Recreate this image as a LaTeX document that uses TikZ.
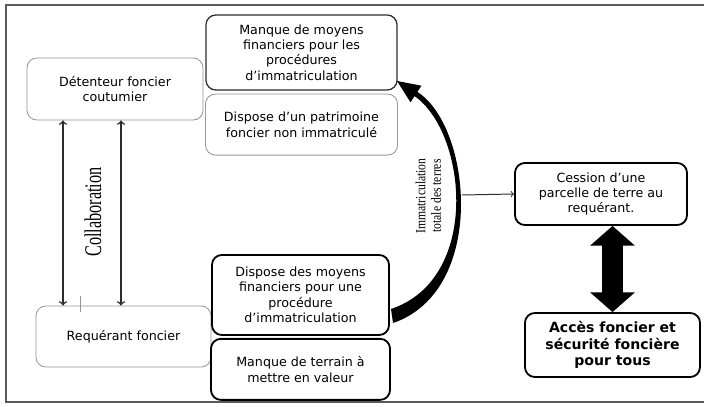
\documentclass[tikz,border=0pt]{standalone}
\usepackage{fontspec}
\setmainfont{DejaVu Sans}
\newfontfamily\timesfont{Liberation Serif}
\usepackage{graphicx}
\usepackage{xcolor}
\usepackage{tikz}
\usetikzlibrary{arrows,arrows.meta,shapes,positioning}

\begin{document}
\begin{tikzpicture}[x=0.025cm,y=-0.025cm,>=to]
    \definecolor{mygrey}{RGB}{150,150,150}
    \definecolor{mydark}{RGB}{45,45,45}
    \definecolor{myframe}{RGB}{90,90,90}

    \fontsize{9pt}{11pt}\selectfont  % 字体大小
    \tikzstyle{soft}=[rectangle,rounded corners=7pt,draw=mygrey,line width=0.6pt,fill=white,align=center,inner sep=2pt]  % 浅色框
    \tikzstyle{format}=[soft,draw=mydark,line width=0.9pt]  % 深色框
    \tikzstyle{strong}=[soft,draw=black,line width=1.3pt]  % 粗框
    \tikzstyle{vlabel}=[rotate=90,font=\timesfont,inner sep=0pt]  % 竖排文字
    \tikzstyle{point}=[coordinate]

    \useasboundingbox (0,0) rectangle (704,407);
    \draw[myframe,line width=1.4pt] (704,5) -- (6,5) -- (6,402) -- (704,402);

    % 定义node
    \node[soft,minimum width=4.4cm,minimum height=1.55cm](det) at (115,89){Détenteur foncier\\coutumier};
    \node[format,minimum width=4.775cm,minimum height=1.875cm](manque) at (301.5,52.5){Manque de moyens\\financiers pour les\\procédures\\d'immatriculation};
    \node[soft,below=0.075cm of manque,minimum width=4.8cm,minimum height=1.525cm](patri){Dispose d'un patrimoine\\foncier non immatriculé};
    \node[soft,minimum width=4.375cm,minimum height=1.525cm](req) at (123.5,336.5){Requérant foncier};
    \node[strong,minimum width=4.425cm,minimum height=2cm](moyens) at (300.5,295){Dispose des moyens\\financiers pour une\\procédure\\d'immatriculation};
    \node[strong,below=0.05cm of moyens,minimum width=4.475cm,minimum height=1.525cm](terrain){Manque de terrain à\\mettre en valeur};
    \node[strong,minimum width=4.3cm,minimum height=1.55cm](cession) at (601,194){Cession d'une\\parcelle de terre au\\requérant.};
    \node[strong,minimum width=4.375cm,minimum height=1.6cm,font=\bfseries\fontsize{10pt}{11.5pt}\selectfont](acces) at (612.5,345){Accès foncier et\\sécurité foncière\\pour tous};

    \node[vlabel](collab) at (93,212){\scalebox{0.68}[1]{\fontsize{17pt}{17pt}\selectfont Collaboration}};
    \node[vlabel](immat) at (430,196){\scalebox{0.83}[1]{\fontsize{10pt}{11pt}\selectfont\begin{tabular}{@{}c@{}}Immatriculation\\totale des terres\end{tabular}}};

    % 开始画线
    \node[point](colA) at (63,0){};
    \node[point](colB) at (121,0){};
    \node[point](tick) at (80,0){};
    \draw[<->,mydark,line width=1.1pt](det.south -| colA)--(req.north -| colA);
    \draw[<->,mydark,line width=1.1pt](det.south -| colB)--(req.north -| colB);
    \draw[mygrey,line width=0.6pt](req.north -| tick) ++(0,-10) -- ++(0,16);

    % 弯曲的粗箭头
    \node[point](bowfrom) at (392,316){};
    \node[point](bowto) at (397,81){};
    \node[point](bowmid) at (462,195){};
    \fill (393,323) .. controls (487,291) and (472,127) .. (417.4,91.9) -- (421.5,85.7) -- (bowto)
        -- (410.5,102.3) -- (414.6,96.1) .. controls (467,133) and (481,279) .. (391,309) -- cycle;
    \draw[->,mydark,line width=0.7pt](bowmid)--(cession.west);

    % 双向粗箭头
    \draw[line width=15pt,{Triangle[length=14pt,width=31pt]}-{Triangle[length=14pt,width=31pt]}](cession.south -| acces.north)--(acces.north);
\end{tikzpicture}
\end{document}
